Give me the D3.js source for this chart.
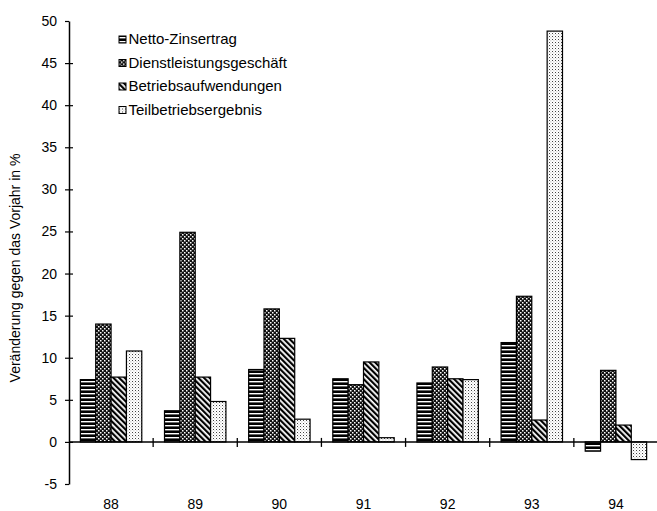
<!DOCTYPE html>
<html><head><meta charset="utf-8">
<script src="https://cdn.jsdelivr.net/npm/d3@7"></script>
<style>body{margin:0;background:#fff}svg{display:block;font-family:"Liberation Sans",Arial,sans-serif}</style>
</head><body><svg id="c" width="657" height="511"></svg>
<script>
const categories = ["88","89","90","91","92","93","94"];
const seriesNames = ["Netto-Zinsertrag","Dienstleistungsgeschäft","Betriebsaufwendungen","Teilbetriebsergebnis"];
const nettoZins = [7.4, 3.7, 8.6, 7.5, 7.0, 11.8, -1.1];
const dienst = [14.0, 24.9, 15.8, 6.8, 8.9, 17.3, 8.5];
const betrieb = [7.7, 7.7, 12.3, 9.5, 7.5, 2.6, 2.0];
const teil = [10.8, 4.8, 2.7, 0.5, 7.4, 48.8, -2.1];
const yTicks = [-5,0,5,10,15,20,25,30,35,40,45,50];
const yLabel = "Veränderung gegen das Vorjahr in %";

const series = [nettoZins, dienst, betrieb, teil];
const svg = d3.select("#c");
const m = {left:69, right:658, top:21, bottom:484};
const x = d3.scaleBand().domain(categories).range([m.left, m.right]).paddingInner(0).paddingOuter(0);
const y = d3.scaleLinear().domain([-5,50]).range([m.bottom, m.top]);
const groupW = x.bandwidth()*0.73;
const x1 = d3.scaleBand().domain(d3.range(4)).range([0, groupW]);

const defs = svg.append("defs");
// horizontal stripes
let p = defs.append("pattern").attr("id","p0").attr("patternUnits","userSpaceOnUse").attr("width",4).attr("height",4);
p.append("rect").attr("width",4).attr("height",4).attr("fill","#000");
p.append("rect").attr("y",1).attr("width",4).attr("height",1.4).attr("fill","#fff");
// checker
p = defs.append("pattern").attr("id","p1").attr("patternUnits","userSpaceOnUse").attr("width",4).attr("height",4);
p.append("rect").attr("width",4).attr("height",4).attr("fill","#111");
p.append("rect").attr("x",0).attr("y",0).attr("width",1.5).attr("height",1.5).attr("fill","#fff");
p.append("rect").attr("x",2).attr("y",2).attr("width",1.5).attr("height",1.5).attr("fill","#fff");
// diagonal "\"
p = defs.append("pattern").attr("id","p2").attr("patternUnits","userSpaceOnUse").attr("width",4).attr("height",4).attr("patternTransform","rotate(-45)");
p.append("rect").attr("width",4).attr("height",4).attr("fill","#fff");
p.append("rect").attr("width",2.2).attr("height",4).attr("fill","#000");
// dots
p = defs.append("pattern").attr("id","p3").attr("patternUnits","userSpaceOnUse").attr("width",3).attr("height",3);
p.append("rect").attr("width",3).attr("height",3).attr("fill","#fff");
p.append("rect").attr("width",1).attr("height",1).attr("fill","#444");
p.append("rect").attr("x",1.5).attr("y",1.5).attr("width",0.8).attr("height",0.8).attr("fill","#888");

// bars
series.forEach((vals, si) => {
  svg.append("g").selectAll("rect").data(vals).join("rect")
    .attr("x", (d,i) => x(categories[i]) + (x.bandwidth()-groupW)/2 + x1(si))
    .attr("y", d => y(Math.max(0,d)))
    .attr("width", x1.bandwidth())
    .attr("height", d => Math.abs(y(d)-y(0)))
    .attr("fill", `url(#p${si})`)
    .attr("stroke","#000").attr("stroke-width",1.2);
});

// y axis
const ya = svg.append("g").attr("transform",`translate(${m.left},0)`)
  .call(d3.axisLeft(y).tickValues(yTicks).tickFormat(d => String(d)).tickSizeInner(4).tickSizeOuter(0).tickPadding(8));
ya.select(".domain").attr("stroke","#000").attr("stroke-width",1.5);
ya.selectAll(".tick line").attr("x1",-4).attr("x2",d => (d===50||d===-5)?0:4).attr("stroke-width",1.2);
ya.selectAll(".tick text").attr("font-size",14).attr("fill","#000");

// zero line
svg.append("line").attr("x1",m.left).attr("x2",m.right).attr("y1",y(0)).attr("y2",y(0)).attr("stroke","#000").attr("stroke-width",1.5);
// category boundary ticks
svg.append("g").selectAll("line").data(categories.slice(1)).join("line")
  .attr("x1", d => x(d)).attr("x2", d => x(d))
  .attr("y1", y(0)-4).attr("y2", y(0)+5).attr("stroke","#000").attr("stroke-width",1.3);
// category labels
svg.append("g").selectAll("text").data(categories).join("text")
  .attr("x", d => x(d)+x.bandwidth()/2).attr("y", 509)
  .attr("text-anchor","middle").attr("font-size",14).text(d => d);

// y label
svg.append("text").attr("transform","translate(20,268) rotate(-90)")
  .attr("text-anchor","middle").attr("font-size",14).text(yLabel);

// legend
const lg = svg.append("g").attr("transform","translate(119,44)");
seriesNames.forEach((n,i) => {
  const g = lg.append("g").attr("transform",`translate(0,${i*23.5})`);
  g.append("rect").attr("x",0).attr("y",-8).attr("width",7).attr("height",7).attr("fill",`url(#p${i})`).attr("stroke","#000").attr("stroke-width",1);
  g.append("text").attr("x",9.5).attr("y",0).attr("font-size",15).text(n);
});
</script></body></html>
